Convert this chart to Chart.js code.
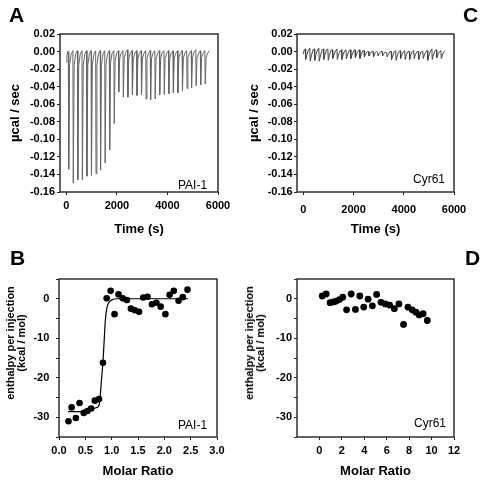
<!DOCTYPE html>
<html>
<head>
<meta charset="utf-8">
<script src="https://cdn.jsdelivr.net/npm/chart.js@4/dist/chart.umd.min.js"></script>
<style>
body{margin:0;background:#fff}
#wrap{position:relative;width:484px;height:480px;font-family:'Liberation Sans',Arial,sans-serif}
canvas{position:absolute}
.lt{position:absolute;font-weight:bold;font-size:21px;line-height:1;color:#000}
.ann{position:absolute;font-size:12px;line-height:1;color:#000}
.yt{position:absolute;font-weight:bold;font-size:11px;line-height:11px;text-align:center;white-space:nowrap;color:#000;transform:translate(-50%,-50%) rotate(-90deg)}
</style>
</head>
<body>
<div id="wrap">
  <canvas id="cA" width="242" height="240" style="left:0;top:0"></canvas>
  <canvas id="cC" width="242" height="240" style="left:242px;top:0"></canvas>
  <canvas id="cB" width="242" height="240" style="left:0;top:240px"></canvas>
  <canvas id="cD" width="242" height="240" style="left:242px;top:240px"></canvas>
  <div class="lt" style="left:9px;top:4px">A</div>
  <div class="lt" style="left:463px;top:4px">C</div>
  <div class="lt" style="left:10px;top:247px">B</div>
  <div class="lt" style="left:465px;top:247px">D</div>
  <div class="ann" style="left:178px;top:179px">PAI-1</div>
  <div class="ann" style="left:413px;top:173px">Cyr61</div>
  <div class="ann" style="left:178px;top:419px">PAI-1</div>
  <div class="ann" style="left:414px;top:417px">Cyr61</div>
  <div class="yt" style="left:16px;top:343px">enthalpy per injection<br>(kcal / mol)</div>
  <div class="yt" style="left:255px;top:343px">enthalpy per injection<br>(kcal / mol)</div>
</div>
<script>
// raw ITC trace, PAI-1 (time s, ucal/sec)
const traceA = [
 [0,-0.012],[25,-0.004],[50,0.000],
 [80,0.000],[95,-0.134],[130,-0.015],[190,-0.003],
 [260,0.001],[275,-0.150],[310,-0.016],[370,-0.003],
 [440,0.001],[455,-0.146],[490,-0.016],[550,-0.003],
 [620,0.001],[635,-0.146],[670,-0.016],[730,-0.003],
 [800,0.001],[815,-0.142],[850,-0.015],[910,-0.003],
 [980,0.001],[995,-0.141],[1030,-0.015],[1090,-0.003],
 [1160,0.001],[1175,-0.139],[1210,-0.015],[1270,-0.003],
 [1340,0.001],[1355,-0.135],[1390,-0.015],[1450,-0.003],
 [1520,0.001],[1535,-0.127],[1570,-0.014],[1630,-0.003],
 [1700,0.001],[1715,-0.112],[1750,-0.013],[1810,-0.002],
 [1880,0.001],[1895,-0.082],[1930,-0.011],[1990,-0.002],
 [2060,0.001],[2075,-0.046],[2110,-0.008],[2170,-0.002],
 [2240,0.001],[2255,-0.052],[2290,-0.008],[2350,-0.001],
 [2420,0.002],[2435,-0.052],[2470,-0.008],[2530,-0.002],
 [2600,0.001],[2615,-0.049],[2650,-0.008],[2710,-0.002],
 [2780,0.001],[2795,-0.050],[2830,-0.008],[2890,-0.002],
 [2960,0.001],[2975,-0.049],[3010,-0.008],[3070,-0.002],
 [3140,0.001],[3155,-0.054],[3190,-0.008],[3250,-0.002],
 [3320,0.001],[3335,-0.055],[3370,-0.008],[3430,-0.002],
 [3500,0.001],[3515,-0.054],[3550,-0.008],[3610,-0.002],
 [3680,0.001],[3695,-0.049],[3730,-0.008],[3790,-0.002],
 [3860,0.001],[3875,-0.049],[3910,-0.008],[3970,-0.002],
 [4040,0.001],[4055,-0.048],[4090,-0.008],[4150,-0.002],
 [4220,0.001],[4235,-0.047],[4270,-0.007],[4330,-0.002],
 [4400,0.001],[4415,-0.047],[4450,-0.007],[4510,-0.002],
 [4580,0.001],[4595,-0.045],[4630,-0.007],[4690,-0.002],
 [4760,0.001],[4775,-0.042],[4810,-0.007],[4870,-0.002],
 [4940,0.001],[4955,-0.041],[4990,-0.007],[5050,-0.001],
 [5120,0.002],[5135,-0.039],[5170,-0.007],[5230,-0.002],
 [5300,0.001],[5315,-0.038],[5350,-0.007],[5410,-0.002],
 [5480,0.001],[5495,-0.037],[5530,-0.007],[5590,-0.002],
 [5650,0.001]
];
// raw ITC trace, Cyr61
const traceC = [
 [0,-0.003],[40,0.002],
 [80,0.003],[95,-0.009],[150,-0.003],[210,0.002],
 [260,0.004],[275,-0.011],[330,-0.004],[390,0.002],
 [440,0.003],[455,-0.010],[510,-0.003],[570,0.002],
 [620,0.004],[635,-0.011],[690,-0.004],[750,0.002],
 [800,0.003],[815,-0.009],[870,-0.003],[930,0.002],
 [980,0.003],[995,-0.010],[1050,-0.003],[1110,0.002],
 [1160,0.002],[1175,-0.008],[1230,-0.003],[1290,0.001],
 [1340,0.003],[1355,-0.009],[1410,-0.003],[1470,0.001],
 [1520,0.002],[1535,-0.009],[1590,-0.003],[1650,0.001],
 [1700,0.002],[1715,-0.008],[1770,-0.003],[1830,0.001],
 [1880,0.002],[1895,-0.008],[1950,-0.003],[2010,0.001],
 [2060,0.002],[2075,-0.007],[2130,-0.002],[2190,0.001],
 [2240,0.002],[2255,-0.008],[2310,-0.003],[2370,0.001],
 [2420,0.001],[2435,-0.006],[2490,-0.002],[2550,0.000],
 [2600,0.000],[2615,-0.005],[2670,-0.002],[2730,0.000],
 [2780,0.000],[2795,-0.006],[2850,-0.002],[2910,0.000],
 [2960,-0.001],[2975,-0.005],[3030,-0.002],[3090,0.000],
 [3140,0.000],[3155,-0.005],[3210,-0.002],[3270,-0.001],
 [3320,-0.001],[3335,-0.006],[3390,-0.003],[3450,0.000],
 [3500,0.000],[3515,-0.009],[3570,-0.004],[3630,0.000],
 [3680,0.001],[3695,-0.010],[3750,-0.004],[3810,0.000],
 [3860,0.001],[3875,-0.008],[3930,-0.003],[3990,0.000],
 [4040,0.001],[4055,-0.009],[4110,-0.003],[4170,0.000],
 [4220,0.000],[4235,-0.009],[4290,-0.003],[4350,0.000],
 [4400,0.001],[4415,-0.008],[4470,-0.003],[4530,0.000],
 [4580,0.000],[4595,-0.009],[4650,-0.003],[4710,0.000],
 [4760,0.000],[4775,-0.008],[4830,-0.003],[4890,0.000],
 [4940,0.001],[4955,-0.010],[5010,-0.004],[5070,0.001],
 [5120,0.003],[5135,-0.009],[5190,-0.003],[5250,0.001],
 [5300,0.002],[5315,-0.007],[5370,-0.003],[5430,0.000],
 [5480,0.001],[5495,-0.008],[5550,-0.003],[5610,0.000],
 [5650,0.001]
];

// integrated heats
const molarB = [0.18,0.24,0.32,0.39,0.47,0.54,0.61,0.68,0.76,0.835,0.905,0.98,1.055,1.13,1.21,1.29,1.365,1.44,1.52,1.60,1.68,1.765,1.85,1.93,2.02,2.10,2.18,2.27,2.35,2.44];
const heatB  = [-31.0,-27.5,-30.2,-26.4,-28.9,-28.4,-27.8,-25.8,-25.4,-16.2,0.1,2.0,-3.9,1.1,0.1,-0.3,-2.5,-2.9,-3.3,0.3,0.5,-1.4,-1.0,-2.0,-3.9,1.0,2.0,-0.5,0.4,2.3];
const fitBx = [0.17,0.4,0.6,0.7,0.76,0.78,0.81,0.835,0.86,0.88,0.9,0.93,0.97,1.02,1.1,1.3,2.45];
const fitBy = [-28.6,-28.6,-28.3,-27.6,-27.0,-25.0,-20.0,-16.0,-10.0,-5.5,-3.0,-1.4,-0.6,-0.2,0,0,0];

const molarD = [0.25,0.6,0.95,1.25,1.5,1.78,2.08,2.42,2.83,3.21,3.6,3.95,4.34,4.72,5.1,5.49,5.88,6.26,6.68,7.09,7.5,7.89,8.27,8.6,8.9,9.25,9.62];
const heatD  = [0.7,1.2,-1.0,-0.8,-0.6,-0.2,0.4,-2.8,1.2,-2.7,0.7,-2.1,-0.1,-1.8,1.1,-0.9,-1.3,-1.6,-2.5,-1.3,-6.5,-2.1,-2.8,-3.4,-4.1,-3.8,-5.5];

// tick values
const timeTicks = [0,2000,4000,6000];
const rateTicks = [0.02,0,-0.02,-0.04,-0.06,-0.08,-0.10,-0.12,-0.14,-0.16];
const ratioTicksB = [0,0.5,1.0,1.5,2.0,2.5,3.0];
const ratioTicksD = [0,2,4,6,8,10,12];
const heatTicks = [5,0,-5,-10,-15,-20,-25,-30,-35];

Chart.defaults.font.family = "'Liberation Sans', Arial, sans-serif";
Chart.defaults.color = '#000';

const framePlugin = {
  id: 'frame',
  afterDraw(chart) {
    const a = chart.chartArea, c = chart.ctx;
    c.save();
    c.strokeStyle = '#222';
    c.lineWidth = 1.4;
    c.strokeRect(a.left, a.top, a.right - a.left, a.bottom - a.top);
    c.restore();
  }
};

function xy(xs, ys) { return xs.map((v, i) => ({x: v, y: ys[i]})); }
function pairs(p) { return p.map(q => ({x: q[0], y: q[1]})); }

function panel(id, datasets, o) {
  return new Chart(document.getElementById(id), {
    type: 'scatter',
    data: {datasets: datasets},
    options: {
      responsive: false,
      animation: false,
      layout: {padding: o.pad},
      plugins: {legend: {display: false}, tooltip: {enabled: false}},
      scales: {
        x: {
          type: 'linear', min: o.xMin, max: o.xMax,
          border: {display: false},
          grid: {drawOnChartArea: false, tickLength: 3, color: '#222'},
          ticks: {padding: o.xPad, autoSkip: false, maxRotation: 0, font: {size: 11, weight: 'bold'}, callback: o.xFmt},
          afterBuildTicks: s => { s.ticks = o.xTicks.map(v => ({value: v})); },
          afterFit: s => { s.height = o.xH; },
          title: {display: true, text: o.xTitle, font: {size: 13, weight: 'bold'}, padding: {top: 0, bottom: o.xTitlePad}}
        },
        y: {
          type: 'linear', min: o.yMin, max: o.yMax,
          border: {display: false},
          grid: {drawOnChartArea: false, tickLength: 3, color: '#222'},
          ticks: {padding: o.yPad, autoSkip: false, font: {size: 11, weight: 'bold'}, callback: o.yFmt},
          afterBuildTicks: s => { s.ticks = o.yTicks.map(v => ({value: v})); },
          afterFit: s => { s.width = o.yW; },
          title: {display: !!o.yTitle, text: o.yTitle || '', font: {size: 13, weight: 'bold'}, padding: {top: o.yTitlePad || 0, bottom: 0}}
        }
      }
    },
    plugins: [framePlugin]
  });
}

const rateFmt = v => v.toFixed(2);
const heatFmt = v => (v % 10 === 0 ? String(v) : '');

panel('cA', [
  {data: pairs(traceA), showLine: true, pointRadius: 0, borderColor: '#666', borderWidth: 1}
], {
  pad: {left: 0, right: 24, top: 34, bottom: 0},
  xMin: -250, xMax: 6000, xTicks: timeTicks, xFmt: v => String(v), xPad: 4.6, xH: 48,
  xTitle: 'Time (s)', xTitlePad: 2.9,
  yMin: -0.16, yMax: 0.02, yTicks: rateTicks, yFmt: rateFmt, yPad: 2, yW: 60,
  yTitle: 'µcal / sec', yTitlePad: 7.7
});

panel('cC', [
  {data: pairs(traceC), showLine: true, pointRadius: 0, borderColor: '#444', borderWidth: 1}
], {
  pad: {left: 0, right: 30, top: 34, bottom: 0},
  xMin: -250, xMax: 6000, xTicks: timeTicks, xFmt: v => String(v), xPad: 8.4, xH: 48,
  xTitle: 'Time (s)', xTitlePad: 2.9,
  yMin: -0.16, yMax: 0.02, yTicks: rateTicks, yFmt: rateFmt, yPad: 1.3, yW: 55,
  yTitle: 'µcal / sec', yTitlePad: 4.2
});

panel('cB', [
  {data: xy(fitBx, fitBy), showLine: true, pointRadius: 0, borderColor: '#000', borderWidth: 1.2, cubicInterpolationMode: 'monotone'},
  {data: xy(molarB, heatB), pointRadius: 3.3, backgroundColor: '#000', borderWidth: 0}
], {
  pad: {left: 0, right: 25, top: 39, bottom: 0},
  xMin: 0, xMax: 3, xTicks: ratioTicksB, xFmt: v => v.toFixed(1), xPad: 4.1, xH: 43,
  xTitle: 'Molar Ratio', xTitlePad: 1.2,
  yMin: -35, yMax: 5, yTicks: heatTicks, yFmt: heatFmt, yPad: 6.7, yW: 59
});

panel('cD', [
  {data: xy(molarD, heatD), pointRadius: 3.4, backgroundColor: '#000', borderWidth: 0}
], {
  pad: {left: 0, right: 30, top: 39, bottom: 0},
  xMin: -2, xMax: 12, xTicks: ratioTicksD, xFmt: v => String(v), xPad: 4.1, xH: 43,
  xTitle: 'Molar Ratio', xTitlePad: 1.2,
  yMin: -35, yMax: 5, yTicks: heatTicks, yFmt: heatFmt, yPad: 2, yW: 55
});
</script>
</body>
</html>
